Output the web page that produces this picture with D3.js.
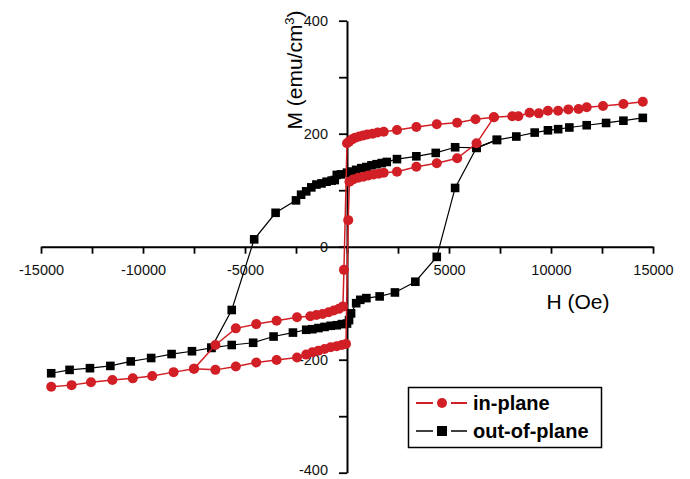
<!DOCTYPE html>
<html>
<head>
<meta charset="utf-8">
<script src="https://cdn.jsdelivr.net/npm/d3@7"></script>
<style>
  body { margin: 0; background: #fff; }
  svg { display: block; font-family: "Liberation Sans", Arial, sans-serif; }
</style>
</head>
<body>
<svg id="chart" width="690" height="479"></svg>
<script>
// field H (Oe), magnetisation M (emu/cm3)
// out-of-plane, descending branch (+H -> -H)
const outDown = [
  [14500,228],[13550,223],[12700,219],[11750,215],[10900,211],[10350,208],[9850,206],[9200,202],
  [8300,195],[7350,189],[6350,175],[5300,176],[4350,166],[3400,160],[2450,155],[1950,150],
  [1700,148],[1450,146],[1200,144],[950,141],[700,139],[450,136],[200,133],[0,131],
  [-300,128],[-500,127],[-600,118],[-750,117],[-1000,115],[-1250,112],[-1500,110],[-1750,105],
  [-2000,98],[-2250,92],[-2500,82],[-3500,60],[-4550,13],[-5650,-112],[-6650,-179],[-7600,-185],
  [-8600,-190],[-9600,-197],[-10600,-203],[-11600,-211],[-12600,-215],[-13600,-218],[-14500,-224]
];
// out-of-plane, ascending branch (only the part that differs)
const outUp = [
  [-6650,-179],[-5650,-174],[-4600,-170],[-3600,-159],[-2650,-152],[-2000,-147],[-1700,-146],
  [-1400,-144],[-1100,-142],[-800,-140],[-500,-139],[-250,-137],[0,-136],[100,-130],[200,-118],
  [450,-100],[650,-94],[950,-91],[1600,-88],[2350,-81],[3350,-62],[4400,-18],[5300,104],
  [6350,175],[7350,189]
];
// in-plane, descending branch
const inDown = [
  [14500,256.6],[13550,252.6],[12550,249],[11750,246.7],[11350,243.7],[10850,243],[10350,240.7],
  [9850,240.5],[9400,236],[8950,237],[8400,231],[8100,231],[7200,229],[6300,225.5],[5400,219.5],
  [4400,216.6],[3400,212],[2450,206.5],[1800,203.5],[1500,202],[1250,200],[1000,198.5],[800,197],
  [600,195],[400,193],[250,190],[100,186],[0,183],[-150,-41],[-200,-106],[-400,-110],[-650,-113],
  [-900,-116],[-1200,-119],[-1500,-121],[-1800,-123],[-2450,-125],[-3450,-131],[-4450,-137],
  [-5450,-144.5],[-6450,-174],[-7500,-216],[-8500,-222],[-9550,-229],[-10500,-233],[-11500,-236],
  [-12550,-240],[-13500,-245],[-14500,-248]
];
// in-plane, ascending branch (only the part that differs)
const inUp = [
  [-7500,-216],[-6450,-218],[-5450,-212],[-4450,-205],[-3450,-200.5],[-2450,-196],[-2000,-191],
  [-1700,-187],[-1400,-184],[-1100,-181],[-800,-178],[-500,-176],[-250,-174],[-50,-172],[60,47],
  [120,115],[300,119],[550,122],[800,124],[1050,126],[1300,128],[1550,129],[1800,131],[2450,132.7],
  [3400,141.6],[4400,147.6],[5400,156.5],[6350,183],[7200,229]
];

const xTicks = d3.range(-15000, 15001, 2500);
const yTicks = d3.range(-400, 401, 100);
const seriesNames = ['in-plane', 'out-of-plane'];
const red = '#d21f26';

const svg = d3.select('#chart');
svg.append('rect').attr('width', 690).attr('height', 479).attr('fill', '#fff');

const x = d3.scaleLinear().domain([-15000, 15000]).range([41, 653]);
const y = d3.scaleLinear().domain([-400, 400]).range([472.7, 20.7]);

// axes cross at the origin
const xAxis = svg.append('g')
  .attr('transform', `translate(0,${y(0)})`)
  .call(d3.axisBottom(x).tickValues(xTicks).tickSize(7).tickSizeOuter(0).tickPadding(11)
    .tickFormat(d => (d % 5000 === 0 && d !== 0) ? String(d) : ''));
const yAxis = svg.append('g')
  .attr('transform', `translate(${x(0)},0)`)
  .call(d3.axisLeft(y).tickValues(yTicks).tickSize(8).tickSizeOuter(0).tickPadding(11)
    .tickFormat(d => d % 200 === 0 ? String(d) : ''));

[xAxis, yAxis].forEach(g => {
  g.select('.domain').attr('stroke', '#000').attr('stroke-width', 2);
  g.selectAll('.tick line').attr('stroke', '#000').attr('stroke-width', 1.8);
  g.selectAll('.tick text').attr('fill', '#111').style('font-size', '14.5px')
    .style('font-family', '"Liberation Sans", Arial, sans-serif');
});
// keep the bottom label inside the frame
yAxis.selectAll('.tick text').filter(d => d === -400).attr('dy', '0.1em');

// axis titles
svg.append('text')
  .attr('transform', `translate(302,70) rotate(-90)`)
  .attr('text-anchor', 'middle')
  .style('font-size', '21px')
  .text('M (emu/cm')
  .append('tspan').attr('dy', -8).style('font-size', '13px').text('3')
  .select(function () { return this.parentNode; })
  .append('tspan').attr('dy', 8).text(')');

svg.append('text')
  .attr('x', 578).attr('y', 309)
  .attr('text-anchor', 'middle')
  .style('font-size', '21px')
  .text('H (Oe)');

const line = d3.line().x(d => x(d[0])).y(d => y(d[1]));

function drawSquares(data) {
  svg.append('g').selectAll('rect').data(data).join('rect')
    .attr('x', d => x(d[0]) - 4.3).attr('y', d => y(d[1]) - 4.3)
    .attr('width', 8.6).attr('height', 8.6).attr('fill', '#000');
}
function drawCircles(data) {
  svg.append('g').selectAll('circle').data(data).join('circle')
    .attr('cx', d => x(d[0])).attr('cy', d => y(d[1])).attr('r', 5)
    .attr('fill', red);
}

// out-of-plane (black squares)
[outDown, outUp].forEach(b => {
  svg.append('path').datum(b).attr('d', line)
    .attr('fill', 'none').attr('stroke', '#000').attr('stroke-width', 1.2);
});
drawSquares(outDown);
drawSquares(outUp);

// in-plane (red circles)
[inDown, inUp].forEach(b => {
  svg.append('path').datum(b).attr('d', line)
    .attr('fill', 'none').attr('stroke', red).attr('stroke-width', 1.5);
});
drawCircles(inDown);
drawCircles(inUp);

// legend
const lg = svg.append('g');
lg.append('rect').attr('x', 408.5).attr('y', 387.5).attr('width', 193).attr('height', 60)
  .attr('fill', '#fff').attr('stroke', '#000').attr('stroke-width', 1.5);
const rows = [{ y: 403, color: red, shape: 'circle' }, { y: 431, color: '#000', shape: 'square' }];
rows.forEach((r, i) => {
  lg.append('line').attr('x1', 416).attr('x2', 433).attr('y1', r.y).attr('y2', r.y)
    .attr('stroke', r.color).attr('stroke-width', i === 0 ? 2 : 1.5);
  lg.append('line').attr('x1', 451).attr('x2', 467).attr('y1', r.y).attr('y2', r.y)
    .attr('stroke', r.color).attr('stroke-width', i === 0 ? 2 : 1.5);
  if (r.shape === 'circle') {
    lg.append('circle').attr('cx', 442).attr('cy', r.y).attr('r', 5).attr('fill', r.color);
  } else {
    lg.append('rect').attr('x', 437).attr('y', r.y - 5).attr('width', 10).attr('height', 10).attr('fill', r.color);
  }
  lg.append('text').attr('x', 473).attr('y', r.y + 7)
    .style('font-size', '20px').style('font-weight', 'bold')
    .text(seriesNames[i]);
});
</script>
</body>
</html>
